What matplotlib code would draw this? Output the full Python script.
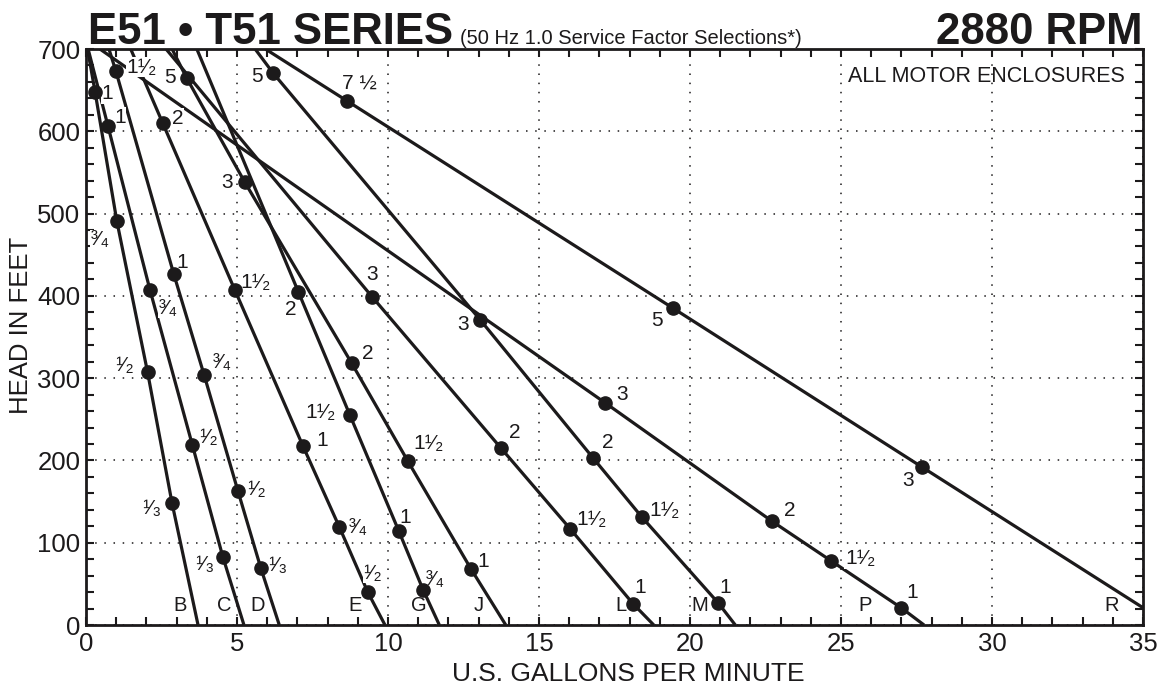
import matplotlib
matplotlib.use('Agg')
import matplotlib.pyplot as plt
from matplotlib.ticker import MultipleLocator

plt.rcParams['font.family'] = ['Liberation Sans', 'DejaVu Sans']

INK = '#1c1a1b'

# pump curves: flow in U.S. gpm, head in feet
curve_names = ['B', 'C', 'D', 'E', 'G', 'J', 'L', 'M', 'P', 'R']
top_flow = [0.05, 0.07, 0.76, 1.48, 3.67, 2.85, 2.65, 5.6, 0.46, 5.94]
top_head = [700, 700, 700, 700, 700, 700, 700, 700, 700, 700]
shutoff_flow = [3.71, 5.23, 6.4, 9.9, 11.7, 13.9, 18.8, 21.5, 27.75, 35.0]
shutoff_head = [0, 0, 0, 0, 0, 0, 0, 0, 0, 21]

# motor hp selection points on each curve
dot_flow = [
    [0.30, 1.02, 2.04, 2.85],
    [0.73, 2.12, 3.52, 4.53],
    [0.99, 2.91, 3.91, 5.03, 5.79],
    [2.54, 4.93, 7.19, 8.39, 9.33],
    [7.03, 8.74, 10.36, 11.16],
    [3.33, 5.26, 8.8, 10.66, 12.75],
    [9.47, 13.74, 16.03, 18.11],
    [6.19, 13.05, 16.79, 18.41, 20.93],
    [17.19, 22.72, 24.67, 26.99],
    [8.64, 19.44, 27.68],
]
dot_head = [
    [648, 491, 307, 148],
    [606, 407, 219, 83],
    [673, 426, 304, 163, 69],
    [610, 407, 217, 119, 40],
    [405, 255, 114, 43],
    [665, 538, 318, 199, 68],
    [399, 215, 117, 26],
    [671, 371, 203, 131, 27],
    [270, 126, 78, 21],
    [637, 385, 192],
]
dot_hp = [
    ['1', '3/4', '1/2', '1/3'],
    ['1', '3/4', '1/2', '1/3'],
    ['1 1/2', '1', '3/4', '1/2', '1/3'],
    ['2', '1 1/2', '1', '3/4', '1/2'],
    ['2', '1 1/2', '1', '3/4'],
    ['5', '3', '2', '1 1/2', '1'],
    ['3', '2', '1 1/2', '1'],
    ['5', '3', '2', '1 1/2', '1'],
    ['3', '2', '1 1/2', '1'],
    ['7 1/2', '5', '3'],
]

# where each hp label sits relative to its dot (pixels, right / up)
label_offsets = [
    [(12, -2), (-17, -19), (-23, 7), (-20, -5)],
    [(12, 9), (18, -18), (16, 7), (-18, -8)],
    [(26, 4), (8, 12), (18, 12), (19, 1), (17, 3)],
    [(15, 5), (21, 8), (19, 6), (19, 0), (5, 19)],
    [(-8, -18), (-29, 3), (6, 14), (12, 10)],
    [(-17, 0), (-18, 0), (16, 10), (21, 18), (12, 8)],
    [(0, 22), (14, 16), (21, 9), (7, 16)],
    [(-16, -4), (-17, -5), (15, 15), (23, 7), (7, 15)],
    [(17, 8), (18, 11), (29, 2), (11, 15)],
    [(12, 18), (-16, -12), (-14, -13)],
]
letter_dx = [-18, -20, -22, -30, -21, -27, -33, -36, -59, -31]

SUP = {'1': '\u00b9', '3': '\u00b3'}
SUB = {'2': '\u2082', '3': '\u2083', '4': '\u2084'}


def hp_text(s):
    if s == '7 1/2':
        return '7 \u00bd'
    parts = s.split()
    if '/' not in parts[-1]:
        return s
    n, d = parts[-1].split('/')
    whole = parts[0] if len(parts) == 2 else ''
    return whole + SUP[n] + '\u2044' + SUB[d]


fig = plt.figure(figsize=(11.6, 6.86), dpi=100)
ax = fig.add_axes([0.07414, 0.08892, 0.9112, 0.83965])

for i, name in enumerate(curve_names):
    xs = [top_flow[i]] + dot_flow[i] + [shutoff_flow[i]]
    ys = [top_head[i]] + dot_head[i] + [shutoff_head[i]]
    ax.plot(xs, ys, color=INK, lw=2.3, solid_capstyle='butt', zorder=3)
    ax.plot(dot_flow[i], dot_head[i], 'o', color=INK, ms=9.5, zorder=5)
    for x, y, hp, off in zip(dot_flow[i], dot_head[i], dot_hp[i], label_offsets[i]):
        ax.annotate(hp_text(hp), (x, y), xytext=off, textcoords='offset pixels',
                    ha='center', va='center', fontsize=15, color=INK, zorder=4,
                    bbox=dict(facecolor='white', edgecolor='none', pad=0.3))
    ax.annotate(name, (shutoff_flow[i], 0), xytext=(letter_dx[i], 20),
                textcoords='offset pixels', ha='center', va='center',
                fontsize=14.5, color=INK, zorder=4)

ax.set_xlim(0, 35)
ax.set_ylim(0, 700)
ax.xaxis.set_major_locator(MultipleLocator(5))
ax.xaxis.set_minor_locator(MultipleLocator(1))
ax.yaxis.set_major_locator(MultipleLocator(100))
ax.yaxis.set_minor_locator(MultipleLocator(20))
ax.tick_params(which='both', direction='in', top=True, right=True,
               length=6, width=1.5, color=INK, labelsize=18.5, labelcolor=INK)
ax.tick_params(axis='x', pad=5)
ax.tick_params(axis='y', pad=4)
ax.grid(True, which='major', color=INK, lw=1.1, linestyle=(0, (1, 5)))
for sp in ax.spines.values():
    sp.set_linewidth(2.0)
    sp.set_color(INK)
ax.set_zorder(1)

ax.set_xlabel('U.S. GALLONS PER MINUTE', fontsize=19, color=INK)
ax.xaxis.set_label_coords(0.513, -0.064)
ax.set_ylabel('HEAD IN FEET', fontsize=18.5, color=INK)
ax.yaxis.set_label_coords(-0.050, 0.52)

ax.text(0.983, 0.953, 'ALL MOTOR ENCLOSURES', transform=ax.transAxes,
        ha='right', va='center', fontsize=15.5, color=INK)

fig.text(0.0759, 0.9359, 'E51 \u2022 T51 SERIES', fontsize=31.5,
         fontweight='bold', color=INK, va='baseline', ha='left')
fig.text(0.3966, 0.9359, '(50 Hz 1.0 Service Factor Selections*)',
         fontsize=14.5, color=INK, va='baseline', ha='left')
fig.text(0.9853, 0.9359, '2880 RPM', fontsize=31.5, fontweight='bold',
         color=INK, va='baseline', ha='right')

fig.savefig('out.png', dpi=100)
